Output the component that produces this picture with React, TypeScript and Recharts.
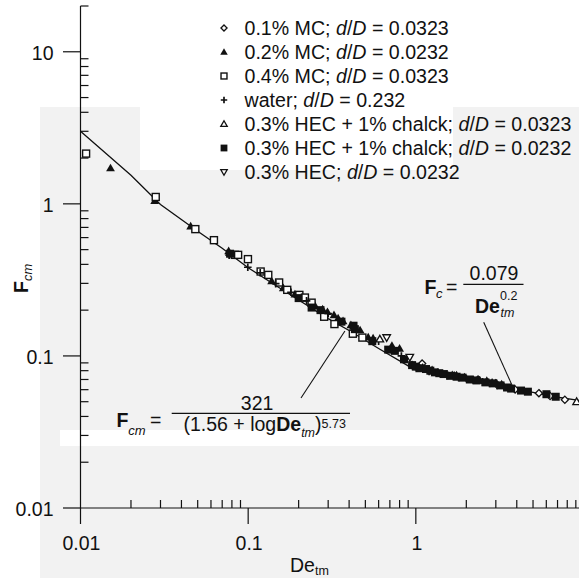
import React from 'react';
import { ScatterChart, Scatter, XAxis, YAxis, ReferenceLine, Legend } from 'recharts';

const FONT = '"Liberation Sans", Arial, Helvetica, sans-serif';
const INK = '#111';

// axis ticks
const xMajorTicks = [0.01, 0.1, 1];
const xMajorLabels = ['0.01', '0.1', '1'];
const xMinorTicks = [
  0.02, 0.03, 0.04, 0.05, 0.06, 0.07, 0.08, 0.09,
  0.2, 0.3, 0.4, 0.5, 0.6, 0.7, 0.8, 0.9,
  2, 3, 4, 5, 6, 7, 8, 9,
];
const yMajorTicks = [0.01, 0.1, 1, 10];
const yMajorLabels = ['0.01', '0.1', '1', '10'];
const yMinorTicks = [
  0.02, 0.03, 0.04, 0.05, 0.06, 0.07, 0.08, 0.09,
  0.2, 0.3, 0.4, 0.5, 0.6, 0.7, 0.8, 0.9,
  2, 3, 4, 5, 6, 7, 8, 9, 20,
];

// correlation curve
const curveDe = [0.01, 0.02, 0.03, 0.05, 0.07, 0.1, 0.15, 0.2, 0.3, 0.4, 0.6, 0.9, 1.0, 1.5, 2, 3, 5, 7, 10];
const curveF = [3.0, 1.54, 0.99, 0.66, 0.51, 0.38, 0.285, 0.233, 0.176, 0.147, 0.112, 0.086, 0.081, 0.0735, 0.069, 0.0635, 0.0575, 0.0535, 0.0505];

// measurements
const mc01De = [1.09, 0.95, 1.7, 2.35, 3.0, 3.91, 5.42, 6.32, 7.74];
const mc01F = [0.089, 0.087, 0.074, 0.070, 0.066, 0.0602, 0.0569, 0.0545, 0.0515];

const mc02De = [0.0151, 0.0277, 0.0454, 0.0765, 0.138, 0.162, 0.19, 0.251, 0.278, 0.297, 0.325, 0.344, 0.368, 0.41, 0.465, 0.52, 0.556, 0.72, 0.8, 1.1, 1.35, 1.65, 1.95, 2.4, 2.85];
const mc02F = [1.72, 1.05, 0.713, 0.491, 0.311, 0.28, 0.255, 0.213, 0.203, 0.195, 0.186, 0.177, 0.17, 0.16, 0.148, 0.133, 0.131, 0.117, 0.112, 0.084, 0.078, 0.075, 0.0725, 0.069, 0.067];

const mc04De = [0.0108, 0.0281, 0.0484, 0.0625, 0.0833, 0.0871, 0.0997, 0.1187, 0.1318, 0.153, 0.171, 0.202, 0.218, 0.239, 0.284, 0.327, 0.421, 0.48];
const mc04F = [2.14, 1.11, 0.682, 0.577, 0.462, 0.462, 0.433, 0.359, 0.341, 0.304, 0.272, 0.252, 0.242, 0.224, 0.181, 0.162, 0.14, 0.132];

const waterDe = [0.077, 0.0995, 0.118, 0.146, 0.18, 0.223, 0.3, 0.42, 0.6, 0.82, 1.2, 1.4, 1.55, 1.8, 2.0, 2.2, 2.5, 2.75, 3.05, 3.35];
const waterF = [0.46, 0.383, 0.352, 0.299, 0.262, 0.23, 0.19, 0.155, 0.125, 0.1, 0.079, 0.076, 0.0745, 0.072, 0.071, 0.0695, 0.0675, 0.066, 0.064, 0.063];

const hecChalk1De = [0.61, 1.25, 1.75, 2.65, 3.25, 9.1];
const hecChalk1F = [0.129, 0.08, 0.074, 0.068, 0.0645, 0.05];

const hecChalk2De = [0.078, 0.2, 0.239, 0.27, 0.36, 0.425, 0.433, 0.55, 0.684, 0.75, 0.85, 0.95, 1.0, 1.05, 1.15, 1.22, 1.3, 1.38, 1.47, 1.6, 1.75, 1.9, 2.1, 2.3, 2.6, 2.9, 3.2, 3.5, 3.7, 4.24, 4.66, 6.01, 6.83];
const hecChalk2F = [0.47, 0.24, 0.208, 0.2, 0.168, 0.158, 0.15, 0.125, 0.11, 0.108, 0.095, 0.087, 0.085, 0.083, 0.082, 0.08, 0.078, 0.077, 0.076, 0.074, 0.073, 0.072, 0.07, 0.069, 0.067, 0.066, 0.064, 0.062, 0.061, 0.0592, 0.0582, 0.056, 0.0539];

const hecDe = [0.67, 0.92];
const hecF = [0.132, 0.098];

const zip = (xs: number[], ys: number[]) => xs.map((x, i) => ({ x, y: ys[i] }));

const series = [
  { name: '0.1% MC', dd: '0.0323', kind: 'diamondOpen', data: zip(mc01De, mc01F) },
  { name: '0.2% MC', dd: '0.0232', kind: 'triFilled', data: zip(mc02De, mc02F) },
  { name: '0.4% MC', dd: '0.0323', kind: 'squareOpen', data: zip(mc04De, mc04F) },
  { name: 'water', dd: '0.232', kind: 'plus', data: zip(waterDe, waterF) },
  { name: '0.3% HEC + 1% chalck', dd: '0.0323', kind: 'triOpen', data: zip(hecChalk1De, hecChalk1F) },
  { name: '0.3% HEC + 1% chalck', dd: '0.0232', kind: 'squareFilled', data: zip(hecChalk2De, hecChalk2F) },
  { name: '0.3% HEC', dd: '0.0232', kind: 'triDown', data: zip(hecDe, hecF) },
];

function Marker({ kind, cx, cy, s = 1 }: { kind: string; cx: number; cy: number; s?: number }) {
  const sw = 1.3;
  switch (kind) {
    case 'diamondOpen': {
      const r = 3.6 * s;
      return <path d={`M${cx},${cy - r}L${cx + r},${cy}L${cx},${cy + r}L${cx - r},${cy}Z`} fill="#fff" stroke={INK} strokeWidth={sw} />;
    }
    case 'triFilled': {
      const r = 4.4 * s;
      return <path d={`M${cx},${cy - r}L${cx + r},${cy + r * 0.75}L${cx - r},${cy + r * 0.75}Z`} fill={INK} />;
    }
    case 'triOpen': {
      const r = 3.8 * s;
      return <path d={`M${cx},${cy - r}L${cx + r},${cy + r * 0.75}L${cx - r},${cy + r * 0.75}Z`} fill="#fff" stroke={INK} strokeWidth={sw} />;
    }
    case 'triDown': {
      const r = 3.8 * s;
      return <path d={`M${cx},${cy + r}L${cx + r},${cy - r * 0.75}L${cx - r},${cy - r * 0.75}Z`} fill="#fff" stroke={INK} strokeWidth={sw} />;
    }
    case 'squareOpen': {
      const r = 3.5 * s;
      return <rect x={cx - r} y={cy - r} width={2 * r} height={2 * r} fill="#fff" stroke={INK} strokeWidth={1.4} />;
    }
    case 'squareFilled': {
      const r = 4 * s;
      return <rect x={cx - r} y={cy - r} width={2 * r} height={2 * r} fill={INK} />;
    }
    case 'plus': {
      const r = 3.8 * s;
      return <path d={`M${cx - r},${cy}H${cx + r}M${cx},${cy - r}V${cy + r}`} stroke={INK} strokeWidth={1.7} />;
    }
    default:
      return <g />;
  }
}

const tickText = { fontFamily: FONT, fontSize: 19.5, fill: INK };

function XTick(props: any) {
  const { x, y, payload } = props;
  const i = xMajorTicks.indexOf(payload.value);
  if (i < 0) return <line x1={x} x2={x} y1={y} y2={y - 8} stroke={INK} strokeWidth={1.2} />;
  return (
    <g>
      <line x1={x} x2={x} y1={y} y2={y + 16} stroke={INK} strokeWidth={1.2} />
      <text x={x + 1} y={y + 42} textAnchor="middle" {...tickText}>{xMajorLabels[i]}</text>
    </g>
  );
}

function YTick(props: any) {
  const { x, y, payload } = props;
  const i = yMajorTicks.indexOf(payload.value);
  if (i < 0) return <line x1={x} x2={x + 8} y1={y} y2={y} stroke={INK} strokeWidth={1.2} />;
  return (
    <g>
      <line x1={x - 17.5} x2={x} y1={y} y2={y} stroke={INK} strokeWidth={1.2} />
      <text x={x - 27} y={y + 8} textAnchor="end" {...tickText}>{yMajorLabels[i]}</text>
    </g>
  );
}

function LegendBox(props: any) {
  const items = (props.payload || []).filter((p: any) => p.type !== 'none');
  return (
    <svg width={579} height={190} style={{ display: 'block' }}>
      {items.map((p: any, k: number) => {
        const s = series[k];
        if (!s) return null;
        const base = 35 + 24 * k;
        return (
          <g key={k}>
            <Marker kind={s.kind} cx={224} cy={base - 7} s={0.85} />
            <text x={244.5} y={base} fontFamily={FONT} fontSize={19.6} fill={INK}>
              {s.name}; <tspan fontStyle="italic">d</tspan>/<tspan fontStyle="italic">D</tspan> = {s.dd}
            </text>
          </g>
        );
      })}
    </svg>
  );
}

function Watermark() {
  const g = '#f2f2f2';
  return (
    <svg width={579} height={578} style={{ position: 'absolute', left: 0, top: 0 }}>
      <rect x={40} y={107} width={539} height={471} fill={g} />
      <rect x={140} y={100} width={313} height={70} fill="#fff" />
      <rect x={60} y={430} width={519} height={16} fill="#fff" />
    </svg>
  );
}

function Annotations() {
  const t = { fontFamily: FONT, fill: INK };
  return (
    <svg width={579} height={578} style={{ position: 'absolute', left: 0, top: 0, pointerEvents: 'none' }}>
      {/* y axis title */}
      <text transform="translate(28,293) rotate(-90)" {...t} fontSize={19.5}>
        <tspan fontWeight="bold">F</tspan>
        <tspan fontStyle="italic" fontSize={13} dy={4}>cm</tspan>
      </text>
      {/* x axis title */}
      <text x={290} y={572} {...t} fontSize={19.5}>
        De<tspan fontSize={12.5} dy={3}>tm</tspan>
      </text>

      {/* F_c = 0.079 / De^0.2 */}
      <text x={424.5} y={293.5} {...t} fontSize={19.5} fontWeight="bold">F</text>
      <text x={436} y={297.5} {...t} fontSize={13} fontStyle="italic">c</text>
      <text x={446} y={293.5} {...t} fontSize={19.5}>=</text>
      <line x1={463.3} x2={523.5} y1={284.3} y2={284.3} stroke={INK} strokeWidth={1.2} />
      <text x={494} y={280} textAnchor="middle" {...t} fontSize={19.5}>0.079</text>
      <text x={475} y={313.3} {...t} fontSize={19.5} fontWeight="bold">De</text>
      <text x={500} y={300} {...t} fontSize={12.5}>0.2</text>
      <text x={500.5} y={317} {...t} fontSize={12.5} fontStyle="italic">tm</text>

      {/* F_cm = 321 / (1.56 + log De)^5.73 */}
      <text x={116.5} y={427.3} {...t} fontSize={19.5} fontWeight="bold">F</text>
      <text x={128.3} y={434.5} {...t} fontSize={13} fontStyle="italic">cm</text>
      <text x={150} y={427.3} {...t} fontSize={19.5}>=</text>
      <line x1={171.7} x2={350} y1={413.3} y2={413.3} stroke={INK} strokeWidth={1.2} />
      <text x={240.8} y={409.5} {...t} fontSize={19.5}>321</text>
      <text x={183.5} y={430.7} {...t} fontSize={19.5}>
        (1.56 + log<tspan fontWeight="bold">De</tspan>
        <tspan fontSize={12.5} fontStyle="italic" dy={6}>tm</tspan>
        <tspan dy={-6}>)</tspan>
        <tspan fontSize={12.5} dy={-3}>5.73</tspan>
      </text>
    </svg>
  );
}

export default function App() {
  return (
    <div style={{ position: 'absolute', left: 0, top: 0, width: 579, height: 578, overflow: 'hidden', background: '#fff' }}>
      <Watermark />
      <div style={{ position: 'absolute', left: 0, top: 0 }}>
        <ScatterChart width={590} height={578} margin={{ top: 6, right: 6.5, left: 0.5, bottom: 0 }}>
          <XAxis
            type="number"
            dataKey="x"
            scale="log"
            domain={[0.01, 10]}
            allowDataOverflow
            ticks={[...xMajorTicks, ...xMinorTicks]}
            interval={0}
            height={70}
            tickSize={0}
            tickMargin={0}
            tickLine={false}
            tick={<XTick />}
            axisLine={{ stroke: INK, strokeWidth: 1.2 }}
          />
          <YAxis
            type="number"
            dataKey="y"
            scale="log"
            domain={[0.01, 20]}
            allowDataOverflow
            ticks={[...yMajorTicks, ...yMinorTicks]}
            interval={0}
            width={80}
            tickSize={0}
            tickMargin={0}
            tickLine={false}
            tick={<YTick />}
            axisLine={{ stroke: INK, strokeWidth: 1.2 }}
          />
          <ReferenceLine segment={[{ x: 0.2066, y: 0.0529 }, { x: 0.3776, y: 0.146 }]} stroke={INK} strokeWidth={1.1} />
          <ReferenceLine segment={[{ x: 2.54, y: 0.1666 }, { x: 3.81, y: 0.0616 }]} stroke={INK} strokeWidth={1.1} />
          <Scatter
            name="curve"
            data={zip(curveDe, curveF)}
            line={{ stroke: INK, strokeWidth: 1.3 }}
            lineType="joint"
            shape={() => <g />}
            legendType="none"
            isAnimationActive={false}
          />
          {series.map((s, k) => (
            <Scatter
              key={k}
              name={`${s.name}; d/D = ${s.dd}`}
              data={s.data}
              shape={(p: any) => <Marker kind={s.kind} cx={p.cx} cy={p.cy} />}
              isAnimationActive={false}
            />
          ))}
          <Legend
            layout="vertical"
            align="center"
            verticalAlign="middle"
            wrapperStyle={{ position: 'absolute', left: 0, top: 0, width: 579, height: 190 }}
            content={<LegendBox />}
          />
        </ScatterChart>
      </div>
      <Annotations />
    </div>
  );
}
